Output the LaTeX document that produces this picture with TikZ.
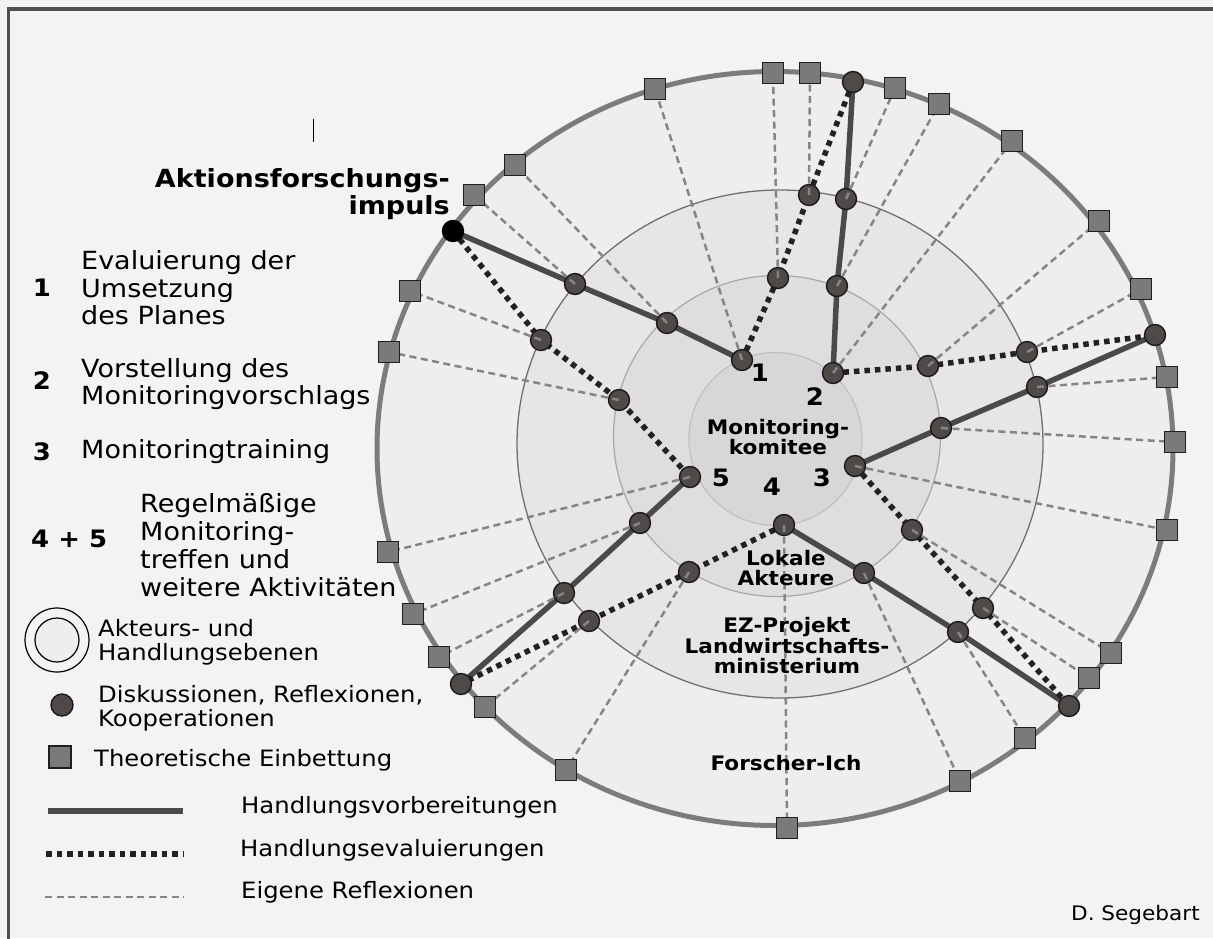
\documentclass[tikz,border=0pt]{standalone}
\usepackage{fontspec}
\setmainfont{DejaVu Sans}[FakeStretch=1.08]

\definecolor{paper}{HTML}{F3F2F5}
\definecolor{frameline}{HTML}{505050}
\definecolor{ringA}{HTML}{EFEDF0}
\definecolor{ringB}{HTML}{E7E5E8}
\definecolor{ringC}{HTML}{DFDDE0}
\definecolor{ringD}{HTML}{D8D6D9}
\definecolor{ringAline}{HTML}{7C7C7C}
\definecolor{ringBline}{HTML}{707070}
\definecolor{ringCline}{HTML}{A8A8A8}
\definecolor{ringDline}{HTML}{C0C0C0}
\definecolor{meetfill}{HTML}{4F4A47}
\definecolor{meetline}{HTML}{1A1A1A}
\definecolor{theofill}{HTML}{7A7A7A}
\definecolor{theoline}{HTML}{1E1E1E}
\definecolor{prepgray}{HTML}{4A4A4A}
\definecolor{evalblack}{HTML}{222222}
\definecolor{reflgray}{HTML}{858585}

\begin{document}
\begin{tikzpicture}[x=1pt,y=-1pt,
  meet/.style={circle, fill=meetfill, draw=meetline, line width=1.4pt, minimum size=21pt, inner sep=0pt},
  theo/.style={rectangle, fill=theofill, draw=theoline, line width=1.6pt, minimum size=21pt, inner sep=0pt},
  prep/.style={draw=prepgray, line width=5.5pt},
  evalu/.style={draw=evalblack, line width=5.5pt, dash pattern=on 5.5pt off 5pt},
  refl/.style={draw=reflgray, line width=2.5pt, dash pattern=on 7pt off 4.5pt},
  lbl/.style={inner sep=0pt, font=\fontsize{25}{27.5}\selectfont, align=left, anchor=west},
  lblsmall/.style={inner sep=0pt, font=\fontsize{22.5}{24}\selectfont, align=left, anchor=west},
  num/.style={inner sep=0pt, font=\bfseries\fontsize{24}{26}\selectfont},
  ringlbl/.style={inner sep=0pt, font=\bfseries\fontsize{20}{20.5}\selectfont, align=center}
]
\useasboundingbox (0,0) rectangle (1213,938);
\fill[paper] (0,0) rectangle (1213,938);
\draw[frameline, line width=3.5pt] (8.7,940) -- (8.7,9) -- (1215,9);

% levels of actors and action
\filldraw[fill=ringA, draw=ringAline, line width=5pt] (775,448.5) ellipse [x radius=398pt, y radius=377pt];
\filldraw[fill=ringB, draw=ringBline, line width=1.3pt] (780,444) ellipse [x radius=263pt, y radius=254pt];
\filldraw[fill=ringC, draw=ringCline, line width=1.2pt] (777,436) ellipse [x radius=163.5pt, y radius=160.5pt];
\filldraw[fill=ringD, draw=ringDline, line width=1.2pt] (775.5,439) circle [radius=86.5pt];

% meeting points
\coordinate (imp) at (453,231);
\coordinate (N1) at (742,360);
\coordinate (N2) at (833,373);
\coordinate (N3) at (855,466);
\coordinate (N4) at (784,525);
\coordinate (N5) at (690,477);
\coordinate (O1) at (853,82);
\coordinate (O2) at (1155,335);
\coordinate (O3) at (1069,706);
\coordinate (O4) at (461,684);
\coordinate (s1a) at (575,284);
\coordinate (s1b) at (667,323);
\coordinate (s2a) at (846,199);
\coordinate (s2b) at (837,286);
\coordinate (s3a) at (941,428);
\coordinate (s3b) at (1037,387);
\coordinate (s4a) at (864,573);
\coordinate (s4b) at (958,632);
\coordinate (s5a) at (640,523);
\coordinate (s5b) at (564,593);
\coordinate (e5a) at (541,340);
\coordinate (e5b) at (619,400);
\coordinate (e1a) at (778,278);
\coordinate (e1b) at (809,195);
\coordinate (e2a) at (928,366);
\coordinate (e2b) at (1027,352);
\coordinate (e3a) at (912,530);
\coordinate (e3b) at (983,608);
\coordinate (e4a) at (689,572);
\coordinate (e4b) at (589,621);

% theoretical embedding points on the outer ring
\coordinate (q1) at (515,165);
\coordinate (q2) at (474,195);
\coordinate (q3) at (410,291);
\coordinate (q4) at (389,352);
\coordinate (q5) at (655,89);
\coordinate (q6) at (773,73);
\coordinate (q7) at (810,73);
\coordinate (q8) at (895,88);
\coordinate (q9) at (939,104);
\coordinate (q10) at (1012,141);
\coordinate (q11) at (1099,221);
\coordinate (q12) at (1141,289);
\coordinate (q13) at (1167,377);
\coordinate (q14) at (1175,442);
\coordinate (q15) at (1167,530);
\coordinate (q16) at (1111,653);
\coordinate (q17) at (1089,678);
\coordinate (q18) at (1025,738);
\coordinate (q19) at (960,781);
\coordinate (q20) at (787,828);
\coordinate (q21) at (566,770);
\coordinate (q22) at (485,707);
\coordinate (q23) at (439,657);
\coordinate (q24) at (413,614);
\coordinate (q25) at (388,552);

% action preparation and action evaluation paths
\draw[prep] (imp) -- (s1a) -- (s1b) -- (N1);
\draw[prep] (N2) -- (s2b) -- (s2a) -- (O1);
\draw[prep] (N3) -- (s3a) -- (s3b) -- (O2);
\draw[prep] (N4) -- (s4a) -- (s4b) -- (O3);
\draw[prep] (N5) -- (s5a) -- (s5b) -- (O4);
\draw[evalu] (imp) -- (e5a) -- (e5b) -- (N5);
\draw[evalu] (N1) -- (e1a) -- (e1b) -- (O1);
\draw[evalu] (N2) -- (e2a) -- (e2b) -- (O2);
\draw[evalu] (N3) -- (e3a) -- (e3b) -- (O3);
\draw[evalu] (N4) -- (e4a) -- (e4b) -- (O4);

\foreach \p in {N1,N2,N3,N4,N5,O1,O2,O3,O4,s1a,s1b,s2a,s2b,s3a,s3b,s4a,s4b,s5a,s5b,e1a,e1b,e2a,e2b,e3a,e3b,e4a,e4b,e5a,e5b}
  \node[meet] (m-\p) at (\p) {};
\node[meet, fill=black, draw=black] (m-imp) at (imp) {};

% own reflections
\foreach \q/\t in {q1/s1b,q2/s1a,q3/e5a,q4/e5b,q5/N1,q6/e1a,q7/e1b,q8/s2a,q9/s2b,q10/N2,q11/e2a,q12/e2b,q13/s3b,q14/s3a,q15/N3,q16/e3a,q17/e3b,q18/s4b,q19/s4a,q20/N4,q21/e4a,q22/e4b,q23/s5b,q24/s5a,q25/N5}
  \draw[refl] (\t) -- (\q);

\foreach \q in {q1,q2,q3,q4,q5,q6,q7,q8,q9,q10,q11,q12,q13,q14,q15,q16,q17,q18,q19,q20,q21,q22,q23,q24,q25}
  \node[theo] (t-\q) at (\q) {};

% labels inside the rings
\node[num] (k1) at (760,373) {1};
\node[num] (k2) at (815,397) {2};
\node[num] (k3) at (822,478) {3};
\node[num] (k4) at (772,487) {4};
\node[num] (k5) at (721,478) {5};
\node[ringlbl] (lmk) at (778,437) {Monitoring-\\komitee};
\node[ringlbl] (lla) at (786,568) {Lokale\\Akteure};
\node[ringlbl] (lez) at (787,646) {EZ-Projekt\\Landwirtschafts-\\ministerium};
\node[ringlbl] (lfi) at (786,763) {Forscher-Ich};

\node[inner sep=0pt, font=\bfseries\fontsize{25}{27}\selectfont, align=right, anchor=east] (limp) at (450,194) {Aktionsforschungs-\\impuls};
\draw[black, line width=1.5pt] (313.5,119) -- (313.5,142);

% legend: steps
\node[num] (g1) at (42,288) {1};
\node[lbl] (g1t) at (81,288) {Evaluierung der\\Umsetzung\\des Planes};
\node[num] (g2) at (42,381) {2};
\node[lbl] (g2t) at (81,384) {Vorstellung des\\Monitoringvorschlags};
\node[num] (g3) at (42,452) {3};
\node[lbl] (g3t) at (81,452) {Monitoringtraining};
\node[num, anchor=west] (g45) at (31,539) {4 + 5};
\node[lbl, font=\fontsize{25}{28}\selectfont] (g45t) at (140,545) {Regelmäßige\\Monitoring-\\treffen und\\weitere Aktivitäten};

% legend: symbols
\draw[black, line width=1.2pt, fill=paper] (57,640) circle [radius=32pt];
\draw[black, line width=1.2pt, fill=ringA] (57,640) circle [radius=22pt];
\node[lblsmall] (ga) at (98,642) {Akteurs- und\\Handlungsebenen};
\node[meet, minimum size=22pt] (gm) at (62,705) {};
\node[lblsmall] (gd) at (98,708.5) {Diskussionen, Reflexionen,\\Kooperationen};
\node[theo, minimum size=22pt] (gt) at (60,757) {};
\node[lblsmall] (gtt) at (94,760) {Theoretische Einbettung};
\coordinate (lp1) at (48,811);
\coordinate (lp2) at (183,811);
\draw[prep] (lp1) -- (lp2);
\node[lblsmall] (gp) at (241,807) {Handlungsvorbereitungen};
\coordinate (le1) at (46,854);
\coordinate (le2) at (184,854);
\draw[evalu] (le1) -- (le2);
\node[lblsmall] (ge) at (240,850) {Handlungsevaluierungen};
\coordinate (lr1) at (45,897);
\coordinate (lr2) at (184,897);
\draw[refl] (lr1) -- (lr2);
\node[lblsmall] (gr) at (241,892) {Eigene Reflexionen};

\node[inner sep=0pt, font=\fontsize{20}{22}\selectfont, anchor=east] (auth) at (1200,915) {D. Segebart};
\end{tikzpicture}
\end{document}
